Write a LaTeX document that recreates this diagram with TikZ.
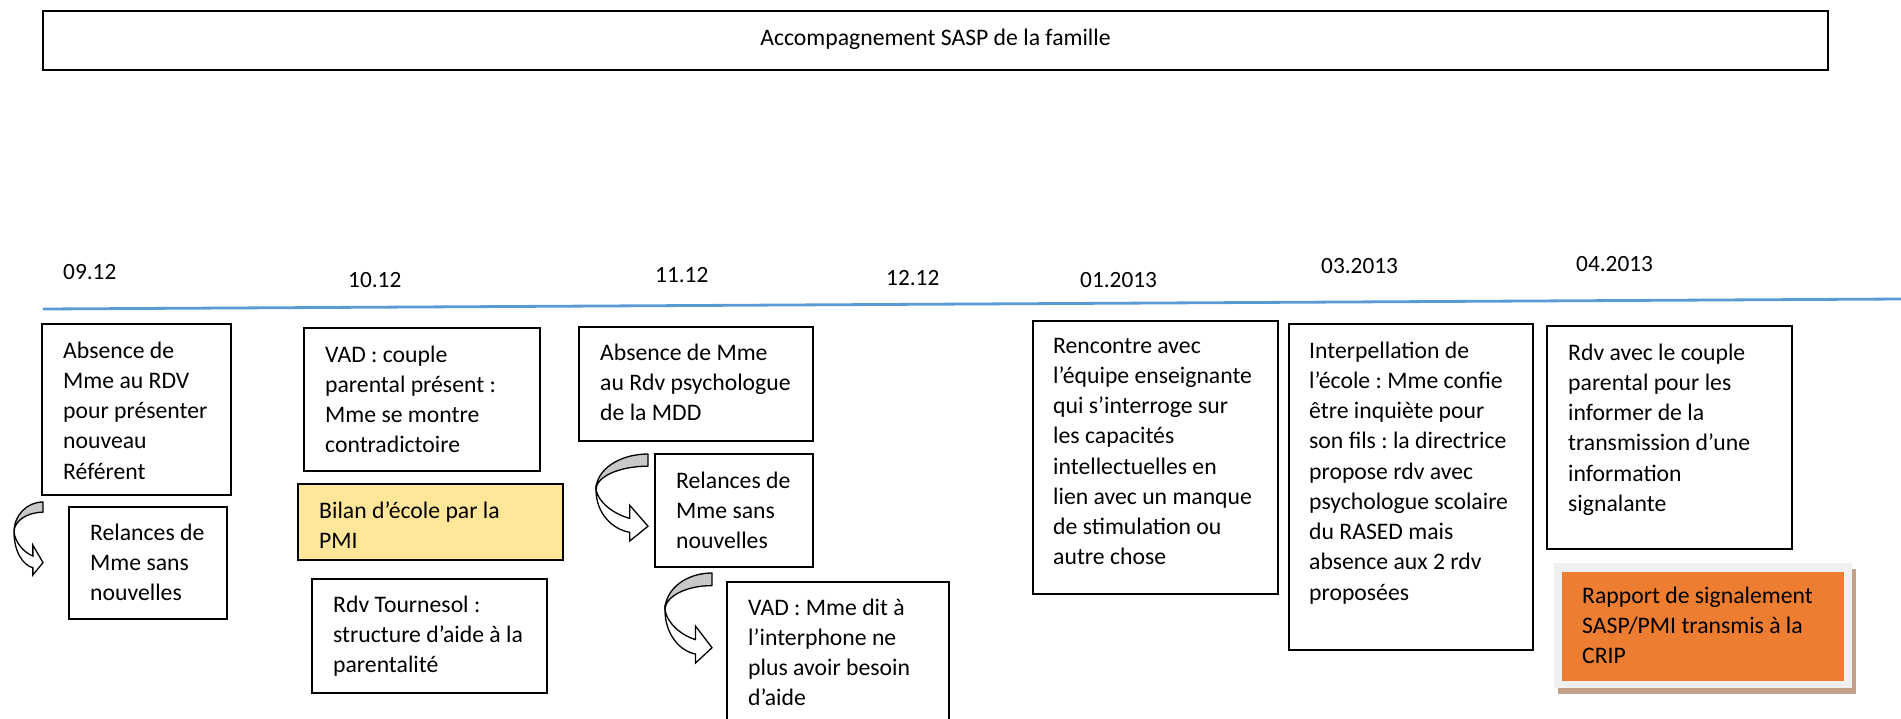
\documentclass[tikz,border=0pt]{standalone}
\usepackage{fontspec}
\setmainfont{Carlito}
\frenchspacing
\definecolor{lineblue}{HTML}{5B9BD5}
\definecolor{bilanfill}{HTML}{FFE699}
\definecolor{rapportfill}{HTML}{ED7D31}
\definecolor{framegray}{HTML}{F0F0F0}
\definecolor{shadowbrown}{HTML}{C3A088}
\definecolor{backgray}{RGB}{200,200,200}

% stacked lines, baseline on the first line
\newcommand\lines[1]{\begin{tabular}[t]{@{}l@{}}#1\end{tabular}}

% curved "go on" arrow: top-right corner (#1,#2), width #3, height #4
\newcommand\turnarrow[4]{%
  \begin{scope}[shift={(#1,#2)},xscale=#3,yscale=#4]
    \filldraw[fill=backgray,draw=black,line width=1.3pt,line join=round]
      (0,0) .. controls (-0.55,0) and (-1,0.18) .. (-1,0.41)
      .. controls (-1,0.26) and (-0.55,0.14) .. (0,0.14) -- cycle;
    \filldraw[fill=white,draw=black,line width=1.3pt,line join=miter]
      (-1,0.41) .. controls (-1,0.69) and (-0.67,0.87) .. (-0.35,0.90)
      -- (-0.35,1) -- (0,0.83) -- (-0.35,0.59) -- (-0.35,0.74)
      .. controls (-0.67,0.69) and (-0.96,0.55) .. (-1,0.41) -- cycle;
  \end{scope}}

\tikzset{
  box/.style={draw=black,line width=1.6pt,inner sep=0pt,outer sep=0pt,anchor=north west},
  txt/.style={inner sep=0pt,anchor=base west,font=\fontsize{23.7}{30.25}\selectfont},
  datelbl/.style={inner sep=0pt,anchor=base west,font=\fontsize{23.3}{28}\selectfont},
}

\begin{document}
\begin{tikzpicture}[x=1pt,y=-1pt]
\useasboundingbox (0,0) rectangle (1901,718);
\fill[white] (0,0) rectangle (1901,718);
\clip (0,0) rectangle (1901,718);

% heading
\node[box,minimum width=1785,minimum height=59] (head) at (43,11) {};
\node[txt,anchor=base] (headt) at (935.5,45) {Accompagnement SASP de la famille};

% time line
\coordinate (tl0) at (43,309);
\coordinate (tl1) at (1901,299);
\draw[lineblue,line width=2.8pt] (tl0) -- (tl1);

% dates
\node[datelbl] (d0912) at (63,279) {09.12};
\node[datelbl] (d1012) at (348,287) {10.12};
\node[datelbl] (d1112) at (655,282) {11.12};
\node[datelbl] (d1212) at (886,285) {12.12};
\node[datelbl] (d0113) at (1080,287) {01.2013};
\node[datelbl] (d0313) at (1321,273) {03.2013};
\node[datelbl] (d0413) at (1576,271) {04.2013};

% 09.12
\node[box,minimum width=189,minimum height=171] (a1) at (42,324) {};
\node[txt] (a1t) at (63,358) {\lines{Absence de\\Mme au RDV\\pour présenter\\nouveau\\Référent}};
\node[box,minimum width=158,minimum height=112] (a2) at (69,507) {};
\node[txt] (a2t) at (90,540) {\lines{Relances de\\Mme sans\\nouvelles}};
\turnarrow{43}{502}{29}{73}

% 10.12
\node[box,minimum width=236,minimum height=143] (b1) at (304,328) {};
\node[txt] (b1t) at (325,362) {\lines{VAD : couple\\parental présent :\\Mme se montre\\contradictoire}};
\node[box,fill=bilanfill,minimum width=265,minimum height=76] (b2) at (298,484) {};
\node[txt] (b2t) at (319,518) {\lines{Bilan d’école par la\\PMI}};
\node[box,minimum width=235,minimum height=114] (b3) at (312,579) {};
\node[txt] (b3t) at (333,612) {\lines{Rdv Tournesol :\\structure d’aide à la\\parentalité}};

% 11.12
\node[box,minimum width=234,minimum height=114] (c1) at (579,327) {};
\node[txt] (c1t) at (600,360) {\lines{Absence de Mme\\au Rdv psychologue\\de la MDD}};
\node[box,minimum width=158,minimum height=113] (c2) at (655,454) {};
\node[txt] (c2t) at (676,488) {\lines{Relances de\\Mme sans\\nouvelles}};
\turnarrow{648}{454}{52}{87}
\node[box,minimum width=222,minimum height=160] (c3) at (727,582) {};
\node[txt] (c3t) at (748,615) {\lines{VAD : Mme dit à\\l’interphone ne\\plus avoir besoin\\d’aide}};
\turnarrow{712}{573}{47}{90}

% 01.2013
\node[box,minimum width=245,minimum height=273] (d1) at (1033,321) {};
\node[txt] (d1t) at (1053,353) {\lines{Rencontre avec\\l’équipe enseignante\\qui s’interroge sur\\les capacités\\intellectuelles en\\lien avec un manque\\de stimulation ou\\autre chose}};

% 03.2013
\node[box,minimum width=244,minimum height=326] (d2) at (1289,324) {};
\node[txt] (d2t) at (1309,358) {\lines{Interpellation de\\l’école : Mme confie\\être inquiète pour\\son fils : la directrice\\propose rdv avec\\psychologue scolaire\\du RASED mais\\absence aux 2 rdv\\proposées}};

% 04.2013
\node[box,minimum width=245,minimum height=223] (d3) at (1547,326) {};
\node[txt] (d3t) at (1568,360) {\lines{Rdv avec le couple\\parental pour les\\informer de la\\transmission d’une\\information\\signalante}};
\fill[shadowbrown] (1558,569) rectangle (1856,694);
\fill[framegray] (1554,563) rectangle (1852,688);
\node[anchor=north west,fill=rapportfill,inner sep=0pt,minimum width=282,minimum height=109] (d4) at (1562,572) {};
\node[txt] (d4t) at (1582,603) {\lines{Rapport de signalement\\SASP/PMI transmis à la\\CRIP}};
\end{tikzpicture}
\end{document}
